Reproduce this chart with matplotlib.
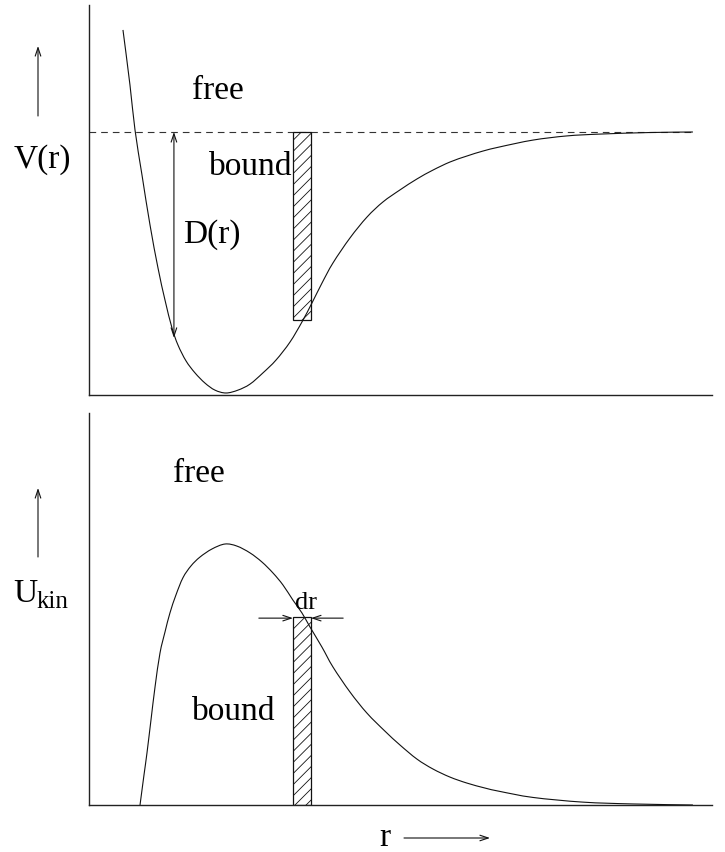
import matplotlib
matplotlib.use("Agg")
import matplotlib.pyplot as plt
from matplotlib.patches import Rectangle, PathPatch
from matplotlib.path import Path

plt.rcParams['font.family'] = ['Liberation Serif', 'DejaVu Serif']
plt.rcParams['hatch.linewidth'] = 0.6

# ---- data (arbitrary units) ----
r_pot = [0.548, 0.661, 0.742, 0.855, 0.984, 1.113, 1.226, 1.339, 1.435, 1.565,
         1.710, 1.871, 2.032, 2.210, 2.403, 2.597, 2.806, 3.016, 3.242, 3.435,
         3.597, 3.758, 3.935, 4.210, 4.484, 4.742, 5.016, 5.290, 5.548, 5.823,
         6.097, 6.355, 6.629, 7.161, 7.710, 8.242, 9.048, 9.742]
V_pot = [0.391, 0.180, 0.008, -0.165, -0.356, -0.521, -0.644, -0.751, -0.816,
         -0.877, -0.923, -0.962, -0.989, -1.0, -0.989, -0.966, -0.923, -0.874,
         -0.805, -0.728, -0.655, -0.579, -0.502, -0.406, -0.326, -0.268, -0.222,
         -0.180, -0.146, -0.115, -0.092, -0.073, -0.057, -0.031, -0.015, -0.008,
         -0.002, 0.0]

r_kin = [0.823, 0.887, 0.935, 1.000, 1.065, 1.145, 1.226, 1.306, 1.403, 1.516,
         1.645, 1.790, 1.984, 2.194, 2.387, 2.597, 2.790, 2.968, 3.129, 3.290,
         3.435, 3.565, 3.758, 3.935, 4.210, 4.484, 4.774, 5.016, 5.290, 5.548,
         5.823, 6.097, 6.387, 6.629, 7.161, 7.968, 8.774, 9.742]
U_kin = [0.0, 0.115, 0.199, 0.326, 0.452, 0.582, 0.663, 0.736, 0.805, 0.871,
         0.916, 0.950, 0.981, 1.000, 0.992, 0.966, 0.931, 0.889, 0.843, 0.785,
         0.736, 0.682, 0.605, 0.529, 0.433, 0.352, 0.283, 0.230, 0.176, 0.138,
         0.107, 0.084, 0.065, 0.052, 0.029, 0.011, 0.004, 0.0]

dissoc_level = 0.0
r_dis_end = 9.74
shell_r = [3.29, 3.58]
shell_V = -0.72
shell_U = 0.72
D_r = 1.37
D_bottom = -0.789

W, H = 725, 852
fig = plt.figure(figsize=(W / 100, H / 100), dpi=100)


def fx(px):
    return px / W


def fy(py):
    return 1 - py / H


def smooth_path(xs, ys):
    """Cubic Bezier path through the given points (Catmull-Rom tangents)."""
    pts = list(zip(xs, ys))
    verts = [pts[0]]
    codes = [Path.MOVETO]
    n = len(pts)
    for i in range(n - 1):
        p0 = pts[i - 1] if i > 0 else pts[i]
        p1 = pts[i]
        p2 = pts[i + 1]
        p3 = pts[i + 2] if i + 2 < n else pts[i + 1]
        c1 = (p1[0] + (p2[0] - p0[0]) / 6.0, p1[1] + (p2[1] - p0[1]) / 6.0)
        c2 = (p2[0] - (p3[0] - p1[0]) / 6.0, p2[1] - (p3[1] - p1[1]) / 6.0)
        verts += [c1, c2, p2]
        codes += [Path.CURVE4, Path.CURVE4, Path.CURVE4]
    return Path(verts, codes)


ax1 = fig.add_axes([fx(89), fy(395), fx(712) - fx(89), fy(5) - fy(395)])
ax2 = fig.add_axes([fx(89), fy(805), fx(712) - fx(89), fy(413) - fy(805)])

for ax in (ax1, ax2):
    ax.set_xlim(0, 10.05)
    for s in ('top', 'right'):
        ax.spines[s].set_visible(False)
    for s in ('left', 'bottom'):
        ax.spines[s].set_linewidth(1.0)
        ax.spines[s].set_color('#222222')
    ax.set_xticks([])
    ax.set_yticks([])

ax1.set_ylim(-1.0077, 0.4866)
ax2.set_ylim(0, 1.502)

lc = '#111111'
ax1.add_patch(PathPatch(smooth_path(r_pot, V_pot), facecolor='none',
                        edgecolor=lc, lw=0.8, zorder=3))
ax1.plot([0, r_dis_end], [dissoc_level, dissoc_level], color='#333333', lw=0.8,
         dashes=(6, 4.5))
ax1.add_patch(Rectangle((shell_r[0], shell_V), shell_r[1] - shell_r[0], -shell_V,
                        facecolor='white', edgecolor=lc, lw=0.9, hatch='///',
                        zorder=2))
ax1.annotate('', xy=(D_r, dissoc_level), xytext=(D_r, D_bottom),
             arrowprops=dict(arrowstyle='<->,head_length=0.6,head_width=0.2',
                             lw=0.8, color=lc, shrinkA=0, shrinkB=0))

fs = 24
ax1.text(1.66, 0.126, 'free', fontsize=fs, va='baseline', ha='left')
ax1.text(1.935, -0.165, 'bound', fontsize=fs, va='baseline', ha='left')
ax1.text(1.52, -0.425, 'D(r)', fontsize=fs, va='baseline', ha='left')

ax2.add_patch(PathPatch(smooth_path(r_kin, U_kin), facecolor='none',
                        edgecolor=lc, lw=0.8, zorder=3))
ax2.add_patch(Rectangle((shell_r[0], 0), shell_r[1] - shell_r[0], shell_U,
                        facecolor='white', edgecolor=lc, lw=0.9, hatch='///',
                        zorder=2))
ax2.annotate('', xy=(shell_r[0], 0.716), xytext=(2.74, 0.716),
             arrowprops=dict(arrowstyle='->,head_length=0.6,head_width=0.2',
                             lw=0.8, color=lc, shrinkA=0, shrinkB=0))
ax2.annotate('', xy=(shell_r[1], 0.716), xytext=(4.10, 0.716),
             arrowprops=dict(arrowstyle='->,head_length=0.6,head_width=0.2',
                             lw=0.8, color=lc, shrinkA=0, shrinkB=0))
ax2.text(3.50, 0.751, 'dr', fontsize=19, va='baseline', ha='center', zorder=4)
ax2.text(1.35, 1.238, 'free', fontsize=fs, va='baseline', ha='left')
ax2.text(1.66, 0.326, 'bound', fontsize=fs, va='baseline', ha='left')

# axis labels with arrows (figure coordinates)
fig.text(fx(14), fy(168), 'V(r)', fontsize=fs, va='baseline', ha='left')
fig.text(fx(13), fy(602), 'U', fontsize=fs, va='baseline', ha='left')
fig.text(fx(37), fy(608), 'kin', fontsize=18, va='baseline', ha='left')
fig.text(fx(379), fy(846), 'r', fontsize=fs, va='baseline', ha='left')

aprops = dict(arrowstyle='->,head_length=0.6,head_width=0.2', lw=0.8, color=lc,
              shrinkA=0, shrinkB=0)
ax1.annotate('', xy=(fx(38), fy(46)), xytext=(fx(38), fy(116)),
             xycoords='figure fraction', textcoords='figure fraction',
             arrowprops=aprops, annotation_clip=False)
ax2.annotate('', xy=(fx(38), fy(488)), xytext=(fx(38), fy(557)),
             xycoords='figure fraction', textcoords='figure fraction',
             arrowprops=aprops, annotation_clip=False)
ax2.annotate('', xy=(fx(490), fy(838)), xytext=(fx(404), fy(838)),
             xycoords='figure fraction', textcoords='figure fraction',
             arrowprops=aprops, annotation_clip=False)

fig.savefig('out.png', dpi=100)
